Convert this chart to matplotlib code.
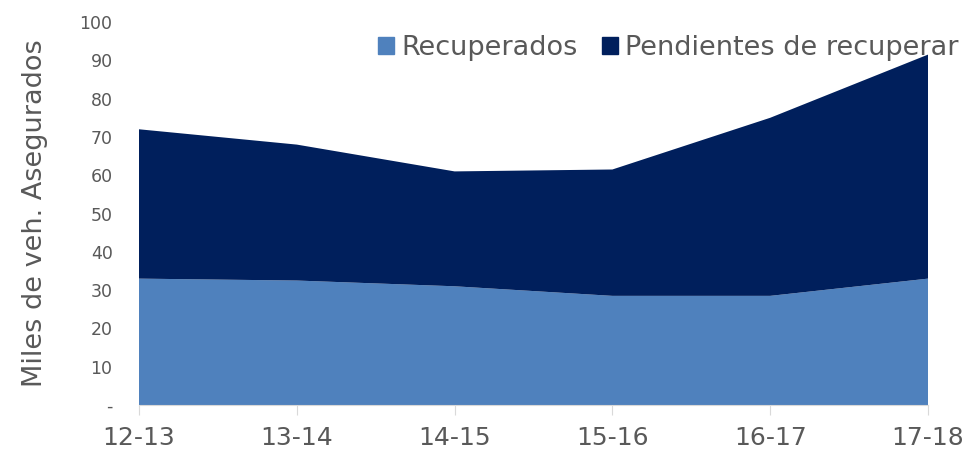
import numpy as np
import matplotlib
matplotlib.use('Agg')
from matplotlib import pyplot as plt
from matplotlib.patches import Patch

plt.rcParams['font.family'] = ['DejaVu Sans']

periodos = ['12-13', '13-14', '14-15', '15-16', '16-17', '17-18']
recuperados = [33, 32.5, 31, 28.5, 28.5, 33]
pendientes = [39, 35.5, 30, 33, 46.5, 58.5]
yticks = [0, 10, 20, 30, 40, 50, 60, 70, 80, 90, 100]
ylabels = ['-', '10', '20', '30', '40', '50', '60', '70', '80', '90', '100']

c_rec = '#4F81BD'
c_pen = '#001F5C'
gris = '#595959'

fig = plt.figure(figsize=(9.7, 4.5), dpi=100)
ax = fig.add_axes([0.1433, 0.1, 0.8134, 0.851])

x = np.arange(len(periodos))
ax.stackplot(x, recuperados, pendientes, colors=[c_rec, c_pen], linewidth=0)

ax.set_xlim(x[0], x[-1])
ax.set_ylim(0, 100)
ax.set_xticks(x)
ax.set_xticklabels(periodos, fontsize=18, color=gris)
ax.set_yticks(yticks)
ax.set_yticklabels(ylabels, fontsize=12.5, color=gris)
ax.set_ylabel('Miles de veh. Asegurados', fontsize=19.5, color=gris, labelpad=23)

for s in ['top', 'right', 'left']:
    ax.spines[s].set_visible(False)
ax.spines['bottom'].set_color('#D9D9D9')
ax.tick_params(axis='y', length=0, pad=19)
ax.tick_params(axis='x', length=7, color='#D9D9D9', pad=8)

handles = [Patch(color=c_rec, label='Recuperados'),
           Patch(color=c_pen, label='Pendientes de recuperar')]
leg = ax.legend(handles=handles, ncol=2, loc='upper right', bbox_to_anchor=(1.052, 0.995),
                frameon=False, fontsize=19.5, handlelength=0.6, handleheight=0.6,
                handletextpad=0.25, columnspacing=0.9, borderaxespad=0)
for t in leg.get_texts():
    t.set_color(gris)

fig.savefig('out.png', dpi=100)
